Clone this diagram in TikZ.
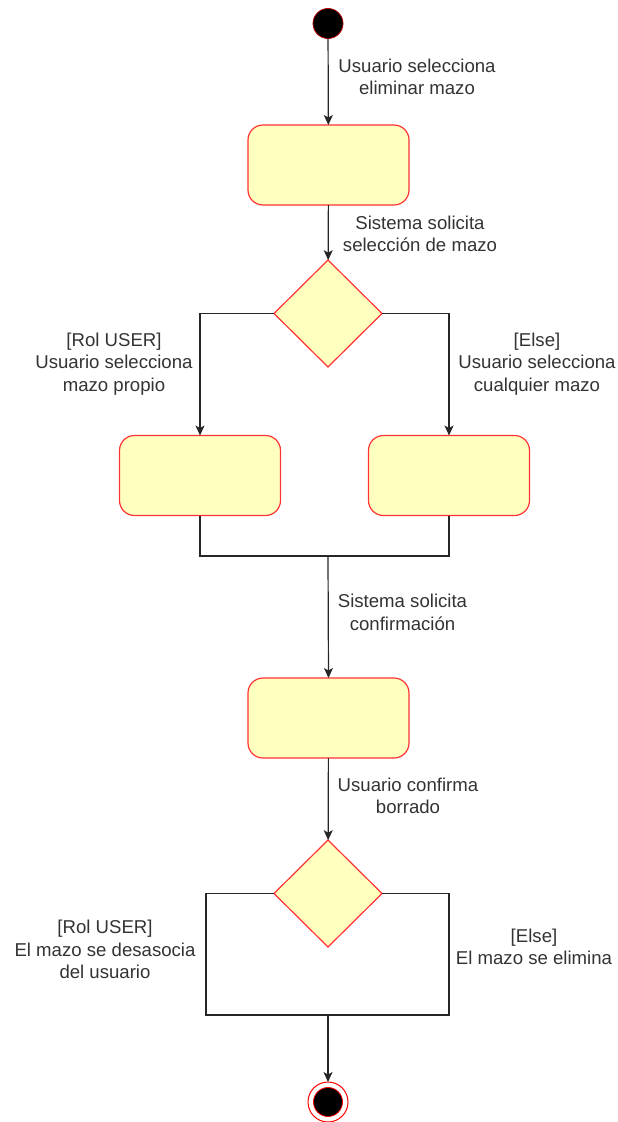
\documentclass[tikz,border=0pt]{standalone}
\usepackage{fontspec}
\setmainfont{Liberation Sans}
\usetikzlibrary{shapes.geometric,arrows.meta}
\definecolor{actfill}{HTML}{FFFFC0}
\definecolor{actline}{HTML}{FF3333}
\definecolor{txt}{HTML}{333333}
\begin{document}
\begin{tikzpicture}[x=1pt,y=-1pt,
  every node/.style={inner sep=0pt,outer sep=0pt},
  activity/.style={draw=actline,fill=actfill,line width=1.2pt,rounded corners=15pt,
    minimum width=161pt,minimum height=80pt},
  decision/.style={draw=actline,fill=actfill,line width=1.2pt,diamond,
    minimum width=108pt,minimum height=107pt,shape aspect=1},
  flow/.style={draw=black!85,line width=1.2pt},
  arrow/.style={flow,-{Stealth[length=10pt,width=9pt,inset=2.5pt]}},
  guard/.style={align=center,text=txt,font=\fontsize{18.6}{22.5}\selectfont}]
\useasboundingbox (0,0) rectangle (618,1122);

% initial and final states
\node[circle,fill=black,draw=red!70!black,line width=0.8pt,minimum size=30pt] (start) at (328,23.5) {};
\node[circle,draw=red,fill=white,line width=1pt,minimum size=40pt] (end) at (328,1102) {};
\node[circle,fill=black,draw=red,line width=0.8pt,minimum size=29pt] (endin) at (328,1102) {};

% activities and decisions
\node[activity] (a1) at (328.5,165) {};
\node[decision] (d1) at (328,313.5) {};
\node[activity] (a2) at (200,475.5) {};
\node[activity] (a3) at (449,475.5) {};
\node[activity] (a4) at (328.5,718) {};
\node[decision] (d2) at (328,893.5) {};

% merge points
\coordinate (j1) at (328,556);
\coordinate (j2) at (328,1015);
\coordinate (cl) at (206,1015);
\coordinate (cr) at (449,1015);

% connectors
\draw[arrow] (start) -- (a1);
\draw[arrow] (a1) -- (d1);
\draw[arrow] (d1.west) -| (a2.north);
\draw[arrow] (d1.east) -| (a3.north);
\draw[flow] (a2.south) |- (j1);
\draw[flow] (a3.south) |- (j1);
\draw[arrow] (j1) -- (a4.north);
\draw[arrow] (a4) -- (d2);
\draw[flow] (d2.west) -| (cl) -- (j2);
\draw[flow] (d2.east) -| (cr) -- (j2);
\draw[arrow] (j2) -- (end);

% transition labels
\node[guard] (l1) at (417,77) {Usuario selecciona\\eliminar mazo};
\node[guard] (l2) at (420,234) {Sistema solicita\\selección de mazo};
\node[guard] (l3) at (114,364) {[Rol USER]\\Usuario selecciona\\mazo propio};
\node[guard] (l4) at (537,364) {[Else]\\Usuario selecciona\\cualquier mazo};
\node[guard] (l5) at (402.5,612.5) {Sistema solicita\\confirmación};
\node[guard] (l6) at (408,796) {Usuario confirma\\borrado};
\node[guard] (l7) at (105,949.5) {[Rol USER]\\El mazo se desasocia\\del usuario};
\node[guard] (l8) at (534,947) {[Else]\\El mazo se elimina};
\end{tikzpicture}
\end{document}
